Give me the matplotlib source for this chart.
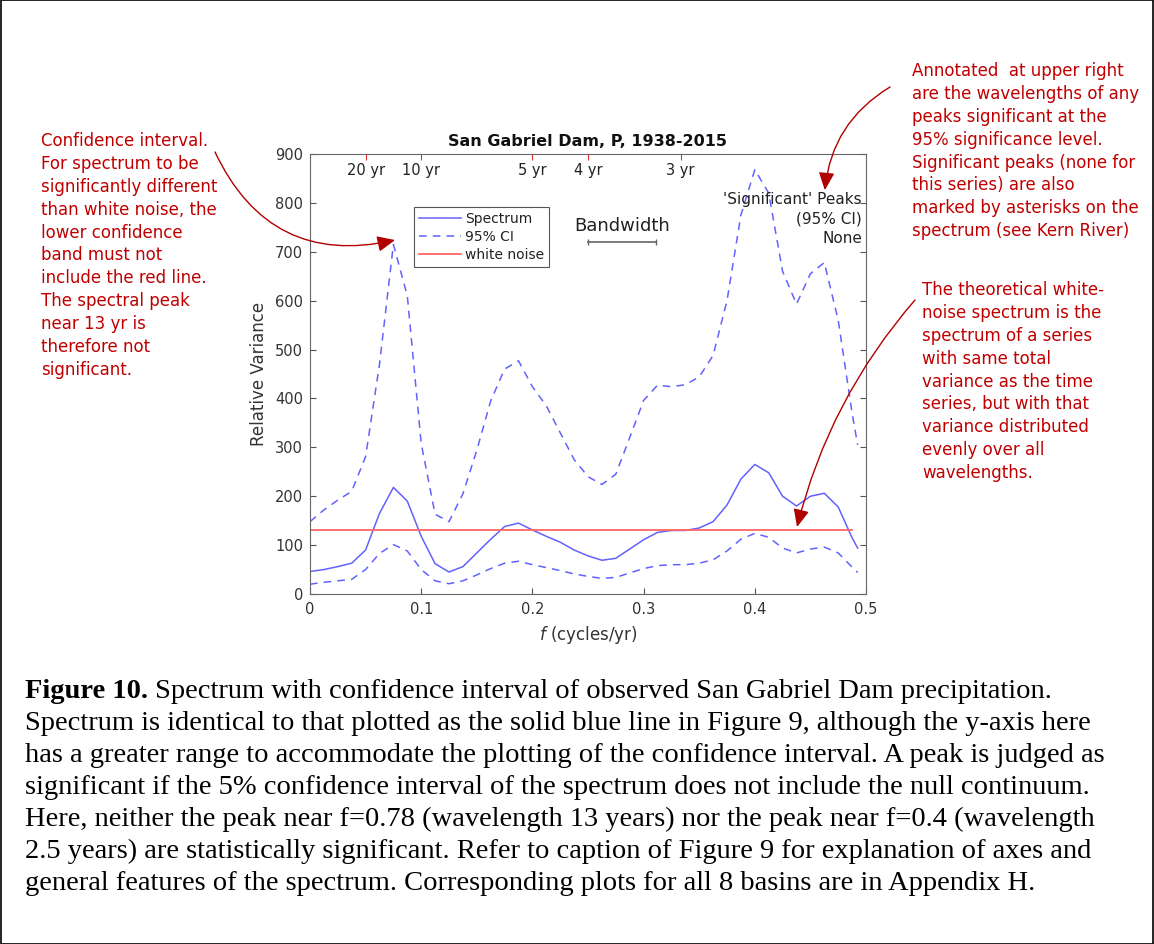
import numpy as np
import matplotlib
matplotlib.use("Agg")
import matplotlib.pyplot as plt
from matplotlib.patches import Rectangle

plt.rcParams['font.family'] = ['DejaVu Sans']

# frequency grid (cycles/yr)
freq = [0, 0.0125, 0.025, 0.0375, 0.05, 0.0625, 0.075, 0.0875, 0.1, 0.1125,
        0.125, 0.1375, 0.15, 0.1625, 0.175, 0.1875, 0.2, 0.2125, 0.225, 0.2375,
        0.25, 0.2625, 0.275, 0.2875, 0.3, 0.3125, 0.325, 0.3375, 0.35, 0.3625,
        0.375, 0.3875, 0.4, 0.4125, 0.425, 0.4375, 0.45, 0.4625, 0.475, 0.4875,
        0.4925]
spectrum = [46, 50, 56, 63, 90, 165, 218, 190, 118, 62,
            45, 56, 84, 112, 138, 145, 131, 118, 106, 90,
            78, 69, 73, 92, 111, 126, 130, 130, 135, 148,
            182, 235, 265, 248, 200, 180, 200, 206, 178, 115,
            94]
ci_upper = [148, 172, 192, 210, 281, 470, 715, 610, 308, 163,
            148, 205, 294, 395, 460, 477, 424, 385, 330, 275,
            240, 224, 245, 320, 396, 427, 424, 428, 444, 488,
            600, 775, 868, 820, 660, 593, 655, 678, 560, 370,
            305]
ci_lower = [20, 24, 27, 30, 50, 83, 101, 88, 50, 27,
            21, 27, 39, 52, 63, 67, 60, 54, 48, 41,
            36, 32, 34, 43, 52, 58, 60, 60, 63, 70,
            88, 112, 124, 116, 94, 84, 92, 96, 84, 55,
            44]
white_noise = 131
periods = [20, 10, 5, 4, 3]
period_labels = ['20 yr', '10 yr', '5 yr', '4 yr', '3 yr']
bandwidth = 0.061
bw_start = 0.25

W, H = 1154, 944
fig = plt.figure(figsize=(W / 100, H / 100), dpi=100)
ax = fig.add_axes([310 / W, 1 - 594 / H, 556 / W, 440 / H])

blue = '#6262ff'
dash = (0, (5, 4))
ax.plot(freq, spectrum, color=blue, lw=1.1, label='Spectrum')
ax.plot(freq, ci_upper, color=blue, lw=1.1, ls=dash, label='95% CI')
ax.plot(freq, ci_lower, color=blue, lw=1.1, ls=dash)
ax.plot([freq[0], freq[-2]], [white_noise, white_noise], color='#ff6666', lw=1.3,
        label='white noise')

ax.set_xlim(0, 0.5)
ax.set_ylim(0, 900)
ax.set_xticks([0, 0.1, 0.2, 0.3, 0.4, 0.5])
ax.set_xticklabels(['0', '0.1', '0.2', '0.3', '0.4', '0.5'])
ax.set_yticks(np.arange(0, 901, 100))
ax.tick_params(direction='in', top=True, right=True, length=4, width=0.8,
               color='#555555', labelcolor='#333333', labelsize=10.5)
ax.tick_params(axis='x', pad=6)
ax.tick_params(axis='y', pad=5)
for s in ax.spines.values():
    s.set_color('#666666')
    s.set_linewidth(0.8)

ax.set_title('San Gabriel Dam, P, 1938-2015', fontsize=11.5, fontweight='bold',
             color='#111111', pad=6)
ax.set_ylabel('Relative Variance', fontsize=12, color='#333333', labelpad=5)
ax.set_xlabel('$\\it{f}$ (cycles/yr)', fontsize=12, color='#333333', labelpad=5)

# period ticks along the top
ax2 = ax.twiny()
ax2.set_xlim(ax.get_xlim())
ax2.set_xticks([1 / p for p in periods])
ax2.set_xticklabels(period_labels)
ax2.tick_params(axis='x', direction='in', length=4, width=0.8, color='#e03030',
                labelcolor='#222222', labelsize=10.5, pad=-17)
for s in ax2.spines.values():
    s.set_visible(False)

leg = ax.legend(loc='upper left', bbox_to_anchor=((414 - 310) / 556, (594 - 207) / 440),
                fontsize=10, frameon=True, fancybox=False, framealpha=1,
                handlelength=3.0, handletextpad=0.3, labelspacing=0.3,
                borderpad=0.35, borderaxespad=0)
leg.get_frame().set_edgecolor('#555555')
leg.get_frame().set_linewidth(0.8)
for t in leg.get_texts():
    t.set_color('#222222')

# bandwidth bar
ax.plot([bw_start, bw_start + bandwidth], [720, 720], color='#666666', lw=1.2,
        marker='|', ms=4)
ax.text(bw_start + bandwidth / 2, 752, 'Bandwidth', ha='center', va='center',
        fontsize=13, color='#222222')
ax.text(0.993, 0.914, "'Significant' Peaks\n(95% CI)\nNone", transform=ax.transAxes,
        ha='right', va='top', fontsize=11, color='#222222', linespacing=1.4)

# red annotations
red = '#c00000'
fs_note = 12
ls_note = 1.35
fig.text(41 / W, 1 - 132 / H,
         'Confidence interval.\nFor spectrum to be\nsignificantly different\n'
         'than white noise, the\nlower confidence\nband must not\n'
         'include the red line.\nThe spectral peak\nnear 13 yr is\n'
         'therefore not\nsignificant.',
         ha='left', va='top', fontsize=fs_note, color=red, linespacing=ls_note)
fig.text(912 / W, 1 - 62 / H,
         'Annotated  at upper right\nare the wavelengths of any\n'
         'peaks significant at the\n95% significance level.\n'
         'Significant peaks (none for\nthis series) are also\n'
         'marked by asterisks on the\nspectrum (see Kern River)',
         ha='left', va='top', fontsize=fs_note, color=red, linespacing=ls_note)
fig.text(922 / W, 1 - 281 / H,
         'The theoretical white-\nnoise spectrum is the\nspectrum of a series\n'
         'with same total\nvariance as the time\nseries, but with that\n'
         'variance distributed\nevenly over all\nwavelengths.',
         ha='left', va='top', fontsize=fs_note, color=red, linespacing=ls_note)

arrow_kw = dict(arrowstyle='-|>,head_length=0.9,head_width=0.4', color='#b00000',
                lw=1.0, shrinkA=0, shrinkB=0, mutation_scale=12)
ax.annotate('', xy=(0.0765, 724), xycoords='data', xytext=(215, H - 152),
            textcoords='figure pixels',
            arrowprops=dict(connectionstyle='arc3,rad=0.4', **arrow_kw))
ax.annotate('', xy=(0.463, 826), xycoords='data', xytext=(890, H - 87),
            textcoords='figure pixels',
            arrowprops=dict(connectionstyle='arc3,rad=0.25', **arrow_kw))
ax.annotate('', xy=(0.438, 137), xycoords='data', xytext=(915, H - 300),
            textcoords='figure pixels',
            arrowprops=dict(connectionstyle='arc3,rad=0.12', **arrow_kw))

# caption
cap_fs = 20.5
cap_lines = [
    'Spectrum is identical to that plotted as the solid blue line in Figure 9, although the y-axis here',
    'has a greater range to accommodate the plotting of the confidence interval. A peak is judged as',
    'significant if the 5% confidence interval of the spectrum does not include the null continuum.',
    'Here, neither the peak near f=0.78 (wavelength 13 years) nor the peak near f=0.4 (wavelength',
    '2.5 years) are statistically significant. Refer to caption of Figure 9 for explanation of axes and',
    'general features of the spectrum. Corresponding plots for all 8 basins are in Appendix H.',
]
serif = ['Liberation Serif', 'DejaVu Serif']
base0 = 698
t0 = fig.text(25 / W, 1 - base0 / H, 'Figure 10.', family=serif, fontsize=cap_fs,
              fontweight='bold', va='baseline', ha='left')
r = fig.canvas.get_renderer()
bb = t0.get_window_extent(renderer=r)
fig.text(bb.x1 / W, 1 - base0 / H,
         ' Spectrum with confidence interval of observed San Gabriel Dam precipitation.',
         family=serif, fontsize=cap_fs, va='baseline', ha='left')
for i, line in enumerate(cap_lines):
    fig.text(25 / W, 1 - (base0 + 32 * (i + 1)) / H, line, family=serif,
             fontsize=cap_fs, va='baseline', ha='left')

fig.patches.append(Rectangle((0.0005, 0.0005), 0.999, 0.999, transform=fig.transFigure,
                             fill=False, edgecolor='black', lw=1.2))

fig.savefig('out.png', dpi=100)
